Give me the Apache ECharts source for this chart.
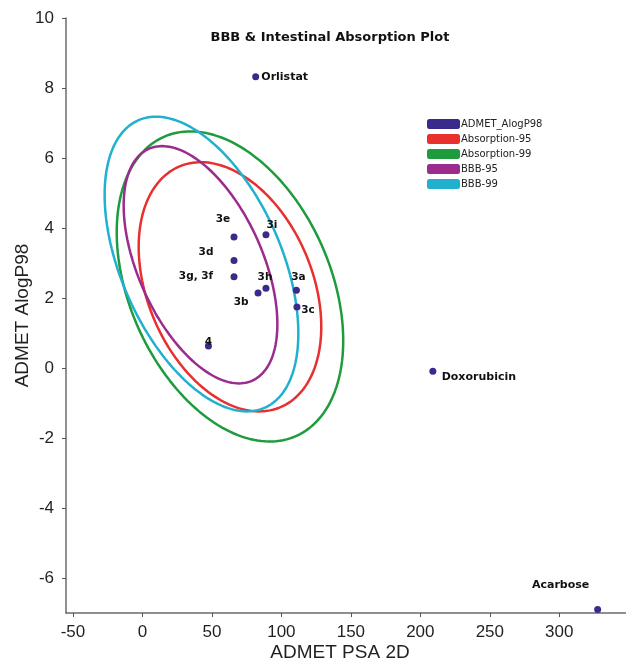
<!DOCTYPE html>
<html>
<head>
<meta charset="utf-8">
<script src="https://cdn.jsdelivr.net/npm/echarts@6/dist/echarts.min.js"></script>
<style>
  html, body { margin: 0; padding: 0; background: #fff; }
  #chart { width: 626px; height: 664px; }
</style>
</head>
<body>
<div id="chart"></div>
<script>
// compounds (PSA 2D, AlogP98)
const compoundNames = ["Orlistat", "3e", "3i", "3d", "3g, 3f", "3h", "3b", "3a", "3c", "4", "Doxorubicin", "Acarbose"];
const psaValues = [81.5, 65.9, 88.9, 65.9, 65.9, 88.9, 83.2, 110.8, 111.2, 47.5, 209, 327.6];
const alogpValues = [8.32, 3.74, 3.81, 3.07, 2.61, 2.28, 2.14, 2.22, 1.74, 0.63, -0.09, -6.9];

// ellipses: centre, half extents along x / y, and tilt (cos of phase)
const ellipseNames = ["Absorption-95", "Absorption-99", "BBB-95", "BBB-99"];
const ellipseCx = [63.0, 63.0, 41.8, 42.5];
const ellipseCy = [2.32, 2.33, 2.95, 2.97];
const ellipseA = [65.7, 81.5, 55.3, 69.7];
const ellipseB = [3.56, 4.43, 3.39, 4.21];
const ellipseTilt = [-0.32, -0.35, -0.5, -0.47];

const xTicks = [-50, 0, 50, 100, 150, 200, 250, 300];
const yTicks = [-6, -4, -2, 0, 2, 4, 6, 8, 10];

const pointColor = "#3b2a8c";
const ellipseColors = ["#e8302f", "#1e9b3c", "#9c2b8e", "#22b0cf"];

// label offsets from the point (px)
const labelOffsets = {
    "Orlistat": [29, 0],
    "3e": [-11, -18],
    "3i": [6, -9],
    "3d": [-28, -8],
    "3g, 3f": [-38, 0],
    "3h": [-1, -11],
    "3b": [-17, 9],
    "3a": [2, -13],
    "3c": [11, 3],
    "4": [0, -4],
    "Doxorubicin": [46, 6],
    "Acarbose": [-37, -24]
};

function ellipsePoints(i) {
    const pts = [];
    const phi = Math.acos(ellipseTilt[i]);
    for (let k = 0; k <= 180; k++) {
        const t = (k / 180) * Math.PI * 2;
        pts.push([
            ellipseCx[i] + ellipseA[i] * Math.cos(t),
            ellipseCy[i] + ellipseB[i] * Math.cos(t - phi)
        ]);
    }
    return pts;
}

const chart = echarts.init(document.getElementById("chart"));

const scatterData = compoundNames.map((n, i) => {
    const big = n === "Orlistat" || n === "Doxorubicin" || n === "Acarbose";
    return {
        name: n,
        value: [psaValues[i], alogpValues[i]],
        label: {
            show: true,
            position: "inside",
            offset: labelOffsets[n],
            formatter: "{b}",
            color: "#111",
            fontFamily: "DejaVu Sans",
            fontWeight: "bold",
            fontSize: big ? 11 : 10.5
        }
    };
});

const series = ellipseNames.map((n, i) => ({
    name: n,
    type: "line",
    data: ellipsePoints(i),
    showSymbol: false,
    symbol: "none",
    silent: true,
    color: ellipseColors[i],
    lineStyle: { color: ellipseColors[i], width: 2.5 },
    z: 2
}));

series.unshift({
    name: "ADMET_AlogP98",
    type: "scatter",
    data: scatterData,
    symbolSize: 7,
    color: pointColor,
    itemStyle: { color: pointColor, opacity: 1 },
    z: 5
});

const axisFont = { color: "#231f20", fontFamily: "Liberation Sans", fontSize: 17 };

chart.setOption({
    animation: false,
    backgroundColor: "#fff",
    title: {
        text: "BBB & Intestinal Absorption Plot",
        left: 325,
        textAlign: "center",
        top: 26,
        textStyle: { fontFamily: "DejaVu Sans", fontWeight: "bold", fontSize: 13, color: "#111" }
    },
    legend: {
        orient: "vertical",
        left: 427,
        top: 119,
        padding: 0,
        itemWidth: 33,
        itemHeight: 10,
        itemGap: 5,
        icon: "roundRect",
        data: ["ADMET_AlogP98"].concat(ellipseNames),
        textStyle: { fontFamily: "DejaVu Sans", fontSize: 10, color: "#222", padding: [0, 0, 0, -4] }
    },
    grid: { left: 66, right: 0, top: 18, bottom: 51, containLabel: false, outerBoundsMode: "none" },
    xAxis: {
        type: "value",
        min: -55,
        max: 348,
        name: "ADMET PSA 2D",
        nameLocation: "middle",
        nameGap: 30,
        nameMoveOverlap: false,
        nameTextStyle: { fontFamily: "Liberation Sans", fontSize: 19, color: "#231f20", padding: [0, 12, 0, 0] },
        axisLine: { show: true, onZero: false, lineStyle: { color: "#6b6b6b", width: 1.5 } },
        axisTick: { show: true, length: 4, customValues: xTicks, lineStyle: { color: "#555" } },
        axisLabel: { customValues: xTicks, margin: 11, ...axisFont },
        splitLine: { show: false }
    },
    yAxis: {
        type: "value",
        min: -7,
        max: 10,
        name: "ADMET AlogP98",
        nameLocation: "middle",
        nameGap: 34,
        nameMoveOverlap: false,
        nameTextStyle: { fontFamily: "Liberation Sans", fontSize: 19, color: "#231f20" },
        axisLine: { show: true, onZero: false, lineStyle: { color: "#6b6b6b", width: 1.5 } },
        axisTick: { show: true, length: 4, customValues: yTicks, lineStyle: { color: "#555" } },
        axisLabel: { customValues: yTicks, margin: 12, ...axisFont },
        splitLine: { show: false }
    },
    series
});
</script>
</body>
</html>
